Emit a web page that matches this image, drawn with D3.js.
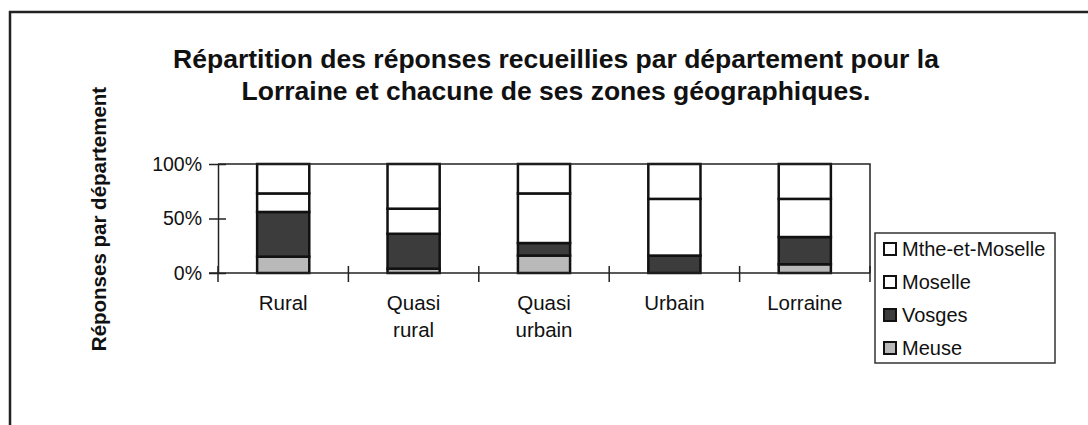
<!DOCTYPE html>
<html>
<head>
<meta charset="utf-8">
<script src="https://d3js.org/d3.v7.min.js"></script>
<style>
body, html {
    margin: 0;
    padding: 0;
    background: #fff;
    font-family: Arial, "Liberation Sans", sans-serif;
}
.bar {
  stroke: #111;
  stroke-width: 2.5;
}
</style>
</head>
<body>
<div id="chart"></div>
<script>

var width = 1088,
    height = 425;

// données (en %)
var categories = ["Rural", "Quasi rural", "Quasi urbain", "Urbain", "Lorraine"];
var catLabels = [["Rural"], ["Quasi", "rural"], ["Quasi", "urbain"], ["Urbain"], ["Lorraine"]];
var departements = ["Meuse", "Vosges", "Moselle", "Mthe-et-Moselle"];
var meuse = [15, 4, 16, 0, 8];
var vosges = [41, 32, 11.5, 16, 25];
var moselle = [17, 23, 45.5, 52, 35];
var mthe = [27, 41, 27, 32, 32];
var yTicks = [0, 50, 100];

var colors = {
  "Meuse": "#b9b9b9",
  "Vosges": "#3c3c3c",
  "Moselle": "#ffffff",
  "Mthe-et-Moselle": "#ffffff"
};

var rows = categories.map(function(c, i) {
  return {cat: c, "Meuse": meuse[i], "Vosges": vosges[i], "Moselle": moselle[i], "Mthe-et-Moselle": mthe[i]};
});

var svg = d3.select('#chart').append('svg')
  .attr('width', width)
  .attr('height', height);

// cadre extérieur
svg.append('line').attr('x1', 10).attr('x2', 10).attr('y1', 11).attr('y2', height)
  .attr('stroke', '#222').attr('stroke-width', 2.5);
svg.append('line').attr('x1', 9).attr('x2', width).attr('y1', 12).attr('y2', 12)
  .attr('stroke', '#222').attr('stroke-width', 2.5);

// titre
var title = svg.append('text')
  .attr('text-anchor', 'middle')
  .style('font-weight', 'bold')
  .style('font-size', '26.5px')
  .attr('fill', '#111');
title.append('tspan').attr('x', 556).attr('y', 68)
  .text('Répartition des réponses recueillies par département pour la');
title.append('tspan').attr('x', 556).attr('y', 100)
  .text('Lorraine et chacune de ses zones géographiques.');

var plot = {left: 218, right: 870, top: 164, bottom: 273};

var x = d3.scaleBand()
  .domain(categories)
  .range([plot.left, plot.right])
  .paddingInner(0.6)
  .paddingOuter(0.3);

var y = d3.scaleLinear()
  .domain([0, 100])
  .range([plot.bottom, plot.top]);

var stack = d3.stack().keys(departements);
var series = stack(rows);

// barres
var g = svg.append('g');
g.selectAll('g.serie')
  .data(series)
  .enter().append('g')
  .attr('class', 'serie')
  .attr('fill', function(d) { return colors[d.key]; })
  .selectAll('rect')
  .data(function(d) { return d; })
  .enter().append('rect')
  .attr('class', 'bar')
  .attr('x', function(d) { return x(d.data.cat); })
  .attr('width', x.bandwidth())
  .attr('y', function(d) { return y(d[1]); })
  .attr('height', function(d) { return y(d[0]) - y(d[1]); })
  .style('display', function(d) { return d[1] - d[0] > 0 ? null : 'none'; });

// bord de la zone de traçage (haut et droite)
svg.append('path')
  .attr('d', 'M' + plot.left + ',' + plot.top + 'H' + plot.right + 'V' + plot.bottom)
  .attr('fill', 'none').attr('stroke', '#222').attr('stroke-width', 1.5);

// axe Y
var yAxis = svg.append('g')
  .attr('transform', 'translate(' + plot.left + ',0)')
  .call(d3.axisLeft(y).tickValues(yTicks).tickSize(0).tickPadding(16)
    .tickFormat(function(d) { return d + '%'; }));
yAxis.select('.domain').attr('stroke', '#222').attr('stroke-width', 1.5);
yAxis.selectAll('text').style('font-size', '19.5px').style('font-family', 'Arial, "Liberation Sans", sans-serif').attr('fill', '#111');
yAxis.selectAll('.tick').append('line')
  .attr('x1', -9).attr('x2', 8)
  .attr('stroke', '#222').attr('stroke-width', 1.5);

// axe X
var step = x.step();
var xTickPos = d3.range(categories.length + 1).map(function(i) { return plot.left + i * step; });
var xAxis = svg.append('g');
xAxis.append('line')
  .attr('x1', plot.left - 9).attr('x2', plot.right)
  .attr('y1', plot.bottom).attr('y2', plot.bottom)
  .attr('stroke', '#222').attr('stroke-width', 1.5);
xAxis.selectAll('line.tick')
  .data(xTickPos)
  .enter().append('line')
  .attr('class', 'tick')
  .attr('x1', function(d) { return d; }).attr('x2', function(d) { return d; })
  .attr('y1', plot.bottom - 7).attr('y2', plot.bottom + 9)
  .attr('stroke', '#222').attr('stroke-width', 1.5);

var labels = xAxis.selectAll('text.cat')
  .data(categories)
  .enter().append('text')
  .attr('class', 'cat')
  .attr('text-anchor', 'middle')
  .style('font-size', '20.5px')
  .attr('fill', '#111');
labels.each(function(c, i) {
  var t = d3.select(this);
  catLabels[i].forEach(function(line, j) {
    t.append('tspan')
      .attr('x', x(c) + x.bandwidth() / 2)
      .attr('y', 310 + j * 27)
      .text(line);
  });
});

// titre axe Y
svg.append('text')
  .attr('transform', 'translate(106,219) rotate(-90)')
  .attr('text-anchor', 'middle')
  .style('font-weight', 'bold')
  .style('font-size', '20.5px')
  .attr('fill', '#111')
  .text('Réponses par département');

// légende
var legend = svg.append('g');
legend.append('rect')
  .attr('x', 875).attr('y', 233).attr('width', 180).attr('height', 130)
  .attr('fill', '#fff').attr('stroke', '#333').attr('stroke-width', 1.5);

var legendKeys = departements.slice().reverse();
var li = legend.selectAll('g.item')
  .data(legendKeys)
  .enter().append('g')
  .attr('class', 'item')
  .attr('transform', function(d, i) { return 'translate(884,' + (249 + i * 33) + ')'; });
li.append('rect')
  .attr('x', 0).attr('y', -6).attr('width', 12).attr('height', 12)
  .attr('fill', function(d) { return colors[d]; })
  .attr('stroke', '#111').attr('stroke-width', 2);
li.append('text')
  .attr('x', 18).attr('y', 7)
  .style('font-size', '20px')
  .attr('fill', '#111')
  .text(function(d) { return d; });

</script>
</body>
</html>
